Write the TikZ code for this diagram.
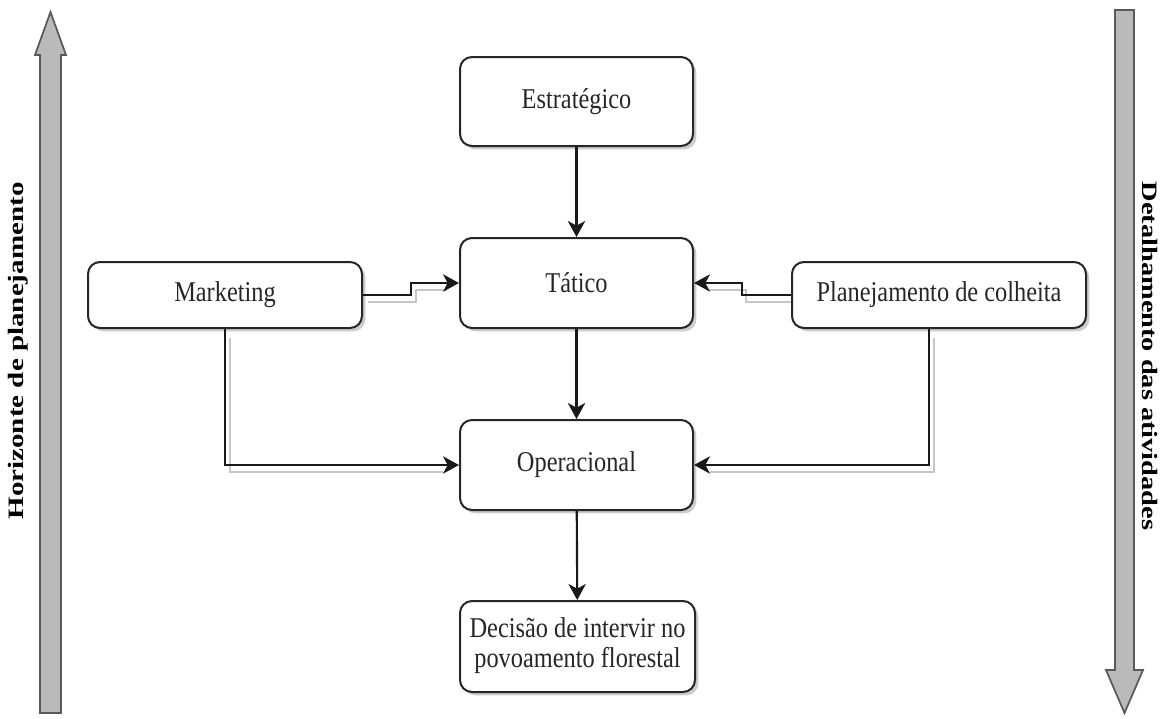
\documentclass[tikz,border=0pt]{standalone}
\usepackage{fontspec}
\setmainfont{Liberation Serif}
\usetikzlibrary{arrows.meta,shadows,calc}
\newcommand{\sqz}[1]{\scalebox{0.85}[1]{#1}}
\begin{document}
\begin{tikzpicture}[x=0.75pt,y=-0.75pt,
  box/.style={draw=black!85, line width=1.5pt, rounded corners=9pt, fill=white,
    align=center, font=\fontsize{21.5}{22}\selectfont, text=black!85, inner sep=0pt,
    drop shadow={shadow xshift=2.5pt, shadow yshift=-2.5pt, fill=black!40}},
  conn/.style={line width=1.6pt, draw=black!90, -{Stealth[length=12pt,width=13pt,inset=3.5pt]}},
  shad/.style={line width=1.2pt, draw=black!22},
  bigarrow/.style={line width=1.3pt, draw=black!65, fill=black!27, line join=miter},
  vlab/.style={font=\bfseries\fontsize{16.5}{18}\selectfont, inner sep=0pt}
]
\useasboundingbox (0,0) rectangle (1162,718);

% big arrows
\draw[bigarrow] (40,713) -- (40,55) -- (35,55) -- (50.5,12) -- (66,55) -- (61,55) -- (61,713) -- cycle;
\draw[bigarrow] (1115,10) -- (1115,670) -- (1106,670) -- (1124.5,713) -- (1143,670) -- (1134,670) -- (1134,10) -- cycle;

\node[vlab, rotate=90] (hlab) at (18,351) {\scalebox{1.32}[1]{Horizonte de planejamento}};
\node[vlab, rotate=-90] (dlab) at (1150,356) {\scalebox{1.29}[1]{Detalhamento das atividades}};

% boxes
\node[box, minimum width=174.75pt, minimum height=66.75pt] (est) at (576.5,101.5) {\sqz{Estratégico}};
\node[box, minimum width=174.75pt, minimum height=67.5pt] (tat) at (576.5,283) {\sqz{Tático}};
\node[box, minimum width=174.75pt, minimum height=67.5pt] (op) at (576.5,465) {\sqz{Operacional}};
\node[box, minimum width=176.25pt, minimum height=68.25pt] (dec) at (577.5,646.5) {\sqz{\begin{tabular}{@{}c@{}}Decisão de intervir no\\povoamento florestal\end{tabular}}};
\node[box, minimum width=205.5pt, minimum height=49.5pt] (mkt) at (225,295) {\sqz{Marketing}};
\node[box, minimum width=220.5pt, minimum height=49.5pt] (plan) at (939,295) {\sqz{Planejamento de colheita}};

% connector shadows
\draw[shad] ([shift={(5,7)}]mkt.east) -- ++(48,0) |- ([shift={(-12,7)}]tat.west);
\draw[shad] ([shift={(0,7)}]plan.west) -- ++(-45,0) |- ([shift={(14,7)}]tat.east);
\draw[shad] ([shift={(5,9)}]mkt.south) |- ([shift={(-16,7)}]op.west);
\draw[shad] ([shift={(-5,9)}]plan.south) |- ([shift={(16,7)}]op.east);

% connectors
\draw[conn] (est) -- (tat);
\draw[conn] (tat) -- (op);
\draw[conn] (op) -- (dec);
\draw[conn] (mkt.east) -- ++(48,0) |- (tat.west);
\draw[conn] (plan.west) -- ++(-49,0) |- (tat.east);
\draw[conn] (mkt.south) |- (op.west);
\draw[conn] ([xshift=-7.5pt]plan.south) |- (op.east);
\end{tikzpicture}
\end{document}
